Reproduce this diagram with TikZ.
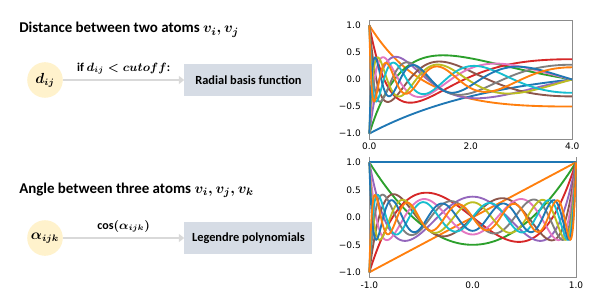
\documentclass[tikz,border=0pt]{standalone}
\usepackage{amsmath}
\usepackage{bm}
\usepackage{fontspec}
\setmainfont{Carlito}
\newfontfamily\plotfont{DejaVu Sans}
\usepackage{tikz}
\usetikzlibrary{positioning,arrows.meta}

\definecolor{tabblue}{HTML}{1F77B4}
\definecolor{taborange}{HTML}{FF7F0E}
\definecolor{tabgreen}{HTML}{2CA02C}
\definecolor{tabred}{HTML}{D62728}
\definecolor{tabpurple}{HTML}{9467BD}
\definecolor{tabbrown}{HTML}{8C564B}
\definecolor{tabpink}{HTML}{E377C2}
\definecolor{tabgray}{HTML}{7F7F7F}
\definecolor{tabolive}{HTML}{BCBD22}
\definecolor{tabcyan}{HTML}{17BECF}
\definecolor{featfill}{HTML}{FFF2CC}
\definecolor{basisfill}{HTML}{D6DCE5}
\definecolor{linkgray}{HTML}{D9D9D9}

\tikzset{
  feature/.style={circle, fill=featfill, minimum size=26.7pt, inner sep=0pt,
    font=\boldmath\fontsize{10.5}{12}\selectfont},
  basisbox/.style={fill=basisfill, minimum width=96pt, minimum height=23.3pt,
    font=\bfseries\fontsize{9.3}{11}\selectfont},
  heading/.style={anchor=base west, inner sep=0pt,
    font=\bfseries\boldmath\fontsize{11.2}{13}\selectfont},
  linklabel/.style={font=\bfseries\boldmath\fontsize{9}{11}\selectfont},
  link/.style={draw=linkgray, line width=1.9pt, -{Triangle[length=4pt,width=6pt]}},
  ticklab/.style={inner sep=0pt, font=\plotfont\fontsize{6.75}{8}\selectfont},
  spine/.style={draw=black!45, line width=0.6pt},
  basisline/.style={line width=1.4pt, smooth}
}

\begin{document}
\begin{tikzpicture}[x=0.75pt, y=-0.75pt,
  declare function={
    legzero(\a)=1;
    legone(\a)=cos(\a);
    legtwo(\a)=0.75*cos(2*\a)+0.25;
    legthree(\a)=0.625*cos(3*\a)+0.375*cos(\a);
    legfour(\a)=0.546875*cos(4*\a)+0.3125*cos(2*\a)+0.140625;
    legfive(\a)=0.4921875*cos(5*\a)+0.2734375*cos(3*\a)+0.234375*cos(\a);
    legsix(\a)=0.4511719*cos(6*\a)+0.2460938*cos(4*\a)+0.2050781*cos(2*\a)+0.0976563;
    legseven(\a)=0.4189453*cos(7*\a)+0.2255859*cos(5*\a)+0.1845703*cos(3*\a)+0.1708984*cos(\a);
    legeight(\a)=0.3927612*cos(8*\a)+0.2094727*cos(6*\a)+0.1691895*cos(4*\a)+0.1538086*cos(2*\a)+0.0747681;
    legnine(\a)=0.3709412*cos(9*\a)+0.1963806*cos(7*\a)+0.1571045*cos(5*\a)+0.1409912*cos(3*\a)+0.1345825*cos(\a);
    legten(\a)=0.3523941*cos(10*\a)+0.1854706*cos(8*\a)+0.1472855*cos(6*\a)+0.1309204*cos(4*\a)+0.1233673*cos(2*\a)+0.0605621;
    legeleven(\a)=0.3363762*cos(11*\a)+0.1761971*cos(9*\a)+0.1391030*cos(7*\a)+0.1227379*cos(5*\a)+0.1145557*cos(3*\a)+0.1110315*cos(\a);
    legtwelve(\a)=0.3223606*cos(12*\a)+0.1681881*cos(10*\a)+0.1321478*cos(8*\a)+0.1159191*cos(6*\a)+0.1073956*cos(4*\a)+0.1030998*cos(2*\a)+0.0508890;
  }]
  \useasboundingbox (0,0) rectangle (607,303);

  % distance part
  \node (t1) [heading] at (19,32.8) {Distance between two atoms $v_i, v_j$};
  \node (dij) [feature] at (45,80) {$d_{ij}$};
  \node (rbf) [basisbox, node distance=152.6pt, right of=dij] {Radial basis function};
  \draw[link] (dij) to node [above, linklabel] {if $d_{ij} < cutoff$:} (rbf);

  % angle part
  \node (t2) [heading] at (19,193.3) {Angle between three atoms $v_i, v_j, v_k$};
  \node (aijk) [feature, node distance=118.5pt, below of=dij] {$\alpha_{ijk}$};
  \node (leg) [basisbox, node distance=152.6pt, right of=aijk] {Legendre polynomials};
  \draw[link] (aijk) to node [above, linklabel] {$\cos(\alpha_{ijk})$} (leg);

  % radial basis plot
  \begin{scope}[shift={(369.3,79.5)}, x=38.06pt, y=40.58pt]
    \draw[spine] (0,-1.1) rectangle (4,1.1);
    \foreach \v/\s in {-1/−1.0, -0.5/−0.5, 0/0.0, 0.5/0.5, 1/1.0}
      \node[ticklab, anchor=east] at ([xshift=-6.2pt]0,\v) {\s};
    \foreach \v in {0,2,4}
      \node[ticklab, anchor=north] at ([yshift=-2.4pt]\v,-1.1) {\v.0};
    \foreach \fn/\c in {legone/tabblue, legtwo/taborange, legthree/tabgreen,
        legfour/tabred, legfive/tabpurple, legsix/tabbrown, legseven/tabpink,
        legeight/tabgray, legnine/tabolive, legten/tabcyan, legeleven/tabblue,
        legtwelve/taborange}
      \draw[basisline, \c] plot[variable=\t, domain=180:90, samples=121]
        ({-2.5*ln(0.201897-0.798103*cos(\t))}, {\fn(\t)});
  \end{scope}

  % legendre plot
  \begin{scope}[shift={(472.65,217.3)}, x=77.51pt, y=41.25pt]
    \draw[spine] (-1,1.1) -- (-1,-1.1) -- (1,-1.1) -- (1,1.1);
    \foreach \v/\s in {-1/−1.0, -0.5/−0.5, 0/0.0, 0.5/0.5, 1/1.0}
      \node[ticklab, anchor=east] at ([xshift=-6.2pt]-1,\v) {\s};
    \foreach \v/\s in {-1/-1.0, 0/0.0, 1/1.0}
      \node[ticklab, anchor=north] at ([yshift=-3pt]\v,-1.1) {\s};
    \foreach \fn/\c in {legzero/tabblue, legone/taborange, legtwo/tabgreen,
        legthree/tabred, legfour/tabpurple, legfive/tabbrown, legsix/tabpink,
        legseven/tabgray, legeight/tabolive, legnine/tabcyan, legten/tabblue,
        legeleven/taborange}
      \draw[basisline, \c] plot[variable=\t, domain=180:0, samples=181]
        ({cos(\t)}, {\fn(\t)});
  \end{scope}
\end{tikzpicture}
\end{document}
